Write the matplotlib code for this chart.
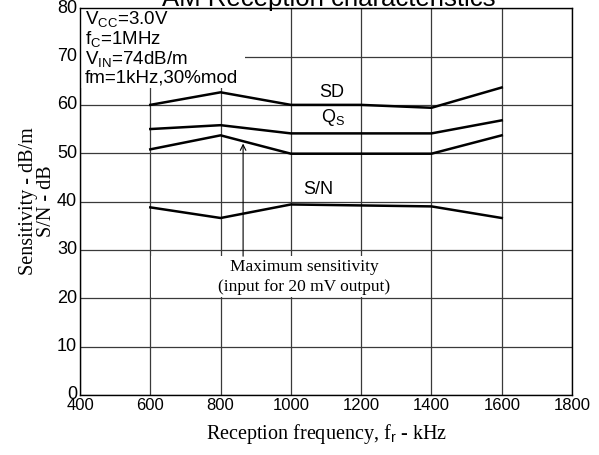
import matplotlib
matplotlib.use('Agg')
from matplotlib import pyplot as plt
from matplotlib.patches import Rectangle

plt.rcParams['font.family'] = ['Liberation Sans', 'DejaVu Sans']
plt.rcParams['mathtext.fontset'] = 'custom'
plt.rcParams['mathtext.rm'] = 'Liberation Sans'
plt.rcParams['mathtext.it'] = 'Liberation Sans:italic'

# data
freq = [600, 800, 1000, 1200, 1400, 1600]
sd = [60.0, 62.6, 60.0, 60.0, 59.4, 63.6]
qs = [55.0, 55.8, 54.1, 54.1, 54.1, 56.8]
max_sens = [50.8, 53.7, 49.9, 49.9, 49.9, 53.7]
s_n = [38.8, 36.6, 39.4, 39.2, 39.0, 36.6]

x_ticks = [400, 600, 800, 1000, 1200, 1400, 1600, 1800]
y_ticks = [0, 10, 20, 30, 40, 50, 60, 70, 80]

serif = ['Liberation Serif', 'DejaVu Serif']

fig = plt.figure(figsize=(5.99, 4.55), dpi=100)
ax = fig.add_axes([0.1336, 0.132, 0.8214, 0.850])

ax.set_xlim(400, 1800)
ax.set_ylim(0, 80)
ax.set_xticks(x_ticks)
ax.set_yticks(y_ticks)
ax.tick_params(length=0, labelsize=12, pad=2)
ax.tick_params(axis='y', labelsize=13)
for lbl in ax.get_yticklabels():
    lbl.set_verticalalignment('center')

ax.grid(True, color='#3a3a3a', linewidth=0.9, zorder=0.5)
ax.set_axisbelow(True)
for sp in ax.spines.values():
    sp.set_linewidth(1.0)
    sp.set_zorder(5)

# white areas hiding the grid behind the notes
ax.add_patch(Rectangle((400, 63.4), 469, 16.6, facecolor='white',
                       edgecolor='none', zorder=1))
ax.add_patch(Rectangle((601, 20.3), 793, 8.4, facecolor='white',
                       edgecolor='none', zorder=1))

for series in (sd, qs, max_sens, s_n):
    ax.plot(freq, series, color='black', linewidth=1.8, zorder=3)

ax.text(1117, 62.6, 'SD', ha='center', va='center', fontsize=13, zorder=4)
ax.text(1120, 57.4, r'Q$_\mathrm{S}$', ha='center', va='center', fontsize=13, zorder=4)
ax.text(1077, 42.4, 'S/N', ha='center', va='center', fontsize=13, zorder=4,
        bbox=dict(facecolor='white', edgecolor='none', pad=1))

ax.text(414, 79.8, 'V$_\\mathrm{CC}$=3.0V\nf$_\\mathrm{C}$=1MHz\n'
        'V$_\\mathrm{IN}$=74dB/m\nfm=1kHz,30%mod',
        ha='left', va='top', fontsize=13.5, linespacing=1.0, zorder=4)

ax.annotate('', xy=(864, 52.0), xytext=(864, 28.7),
            arrowprops=dict(arrowstyle='->', color='black', lw=0.8,
                            shrinkA=0, shrinkB=0), zorder=4)
ax.text(1037, 26.5, 'Maximum sensitivity', ha='center', va='center',
        fontsize=12.5, family=serif, zorder=4)
ax.text(1037, 22.4, '(input for 20 mV output)', ha='center', va='center',
        fontsize=12.5, family=serif, zorder=4)

ax.set_xlabel('Reception frequency, f$_\\mathrm{r}$ - kHz', family=serif,
              fontsize=14.5, labelpad=7)
ax.set_ylabel('Sensitivity - dB/m\nS/N - dB', family=serif, fontsize=14.5,
              linespacing=0.92, labelpad=1)

fig.text(0.548, 0.987, 'AM Reception characteristics', ha='center',
         va='baseline', fontsize=18.5)

fig.savefig('out.png', dpi=100)
